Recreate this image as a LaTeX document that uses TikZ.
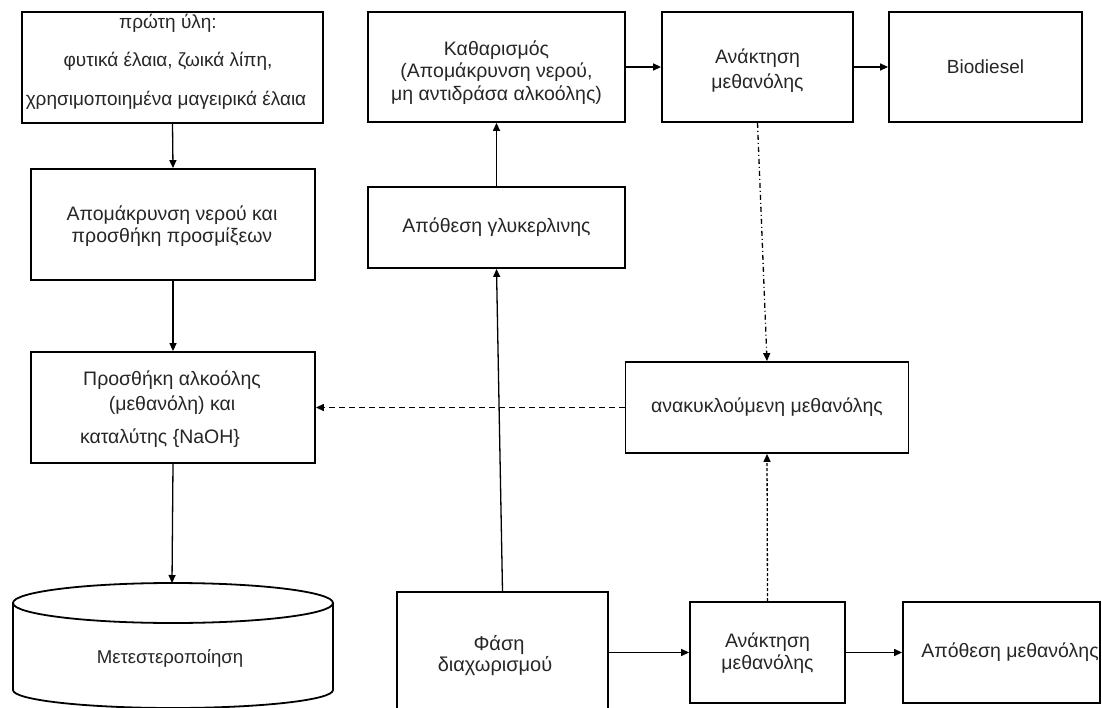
\documentclass[tikz,border=0pt]{standalone}
\usepackage{fontspec}
\setmainfont{Liberation Sans}
\usetikzlibrary{arrows.meta}

\newcommand{\fs}[1]{\fontsize{#1}{22}\selectfont}

\begin{document}
\begin{tikzpicture}[x=1pt,y=-1pt,
  every node/.style={font=\fs{19.5}, text=black!85},
  box/.style={draw, line width=1.8pt, inner sep=0pt},
  txt/.style={align=center, inner sep=0pt},
  link/.style={line width=1.3pt, -{Triangle[length=8pt,width=7pt]}},
  dashlink/.style={link, dash pattern=on 6pt off 4pt},
  dotlink/.style={link, dash pattern=on 3pt off 2pt},
  dashdotlink/.style={link, dash pattern=on 5pt off 3pt on 1pt off 3pt}]

\useasboundingbox (0,0) rectangle (1102,708);

% left column: preparation of the feedstock
\node[box, minimum width=301pt, minimum height=111pt] (raw) at (172.5,67.5) {};
\node[txt, font=\fs{19}] at (168,23) {πρώτη ύλη:};
\node[txt, font=\fs{19}] at (168,61) {φυτικά έλαια, ζωικά λίπη,};
\node[txt, font=\fs{19}] at (166,100) {χρησιμοποιημένα μαγειρικά έλαια};

\node[box, minimum width=284pt, minimum height=111pt] (prep) at (173,224.5) {};
\node[txt] at (172,215) {Απομάκρυνση νερού και};
\node[txt] at (172,237) {προσθήκη προσμίξεων};

\node[box, minimum width=284pt, minimum height=111pt] (alc) at (173,407.5) {};
\node[txt] at (172,380) {Προσθήκη αλκοόλης};
\node[txt] at (172,405) {(μεθανόλη) και};
\node[txt] at (160,438) {καταλύτης \{NaOH\}};

% reactor drawn as a cylinder
\coordinate (cyltop) at (172,583);
\draw[line width=1.8pt] (173,603) ellipse [x radius=160, y radius=20];
\draw[line width=1.8pt] (13,603) -- (13,690) arc [start angle=180, end angle=0, x radius=160, y radius=18] -- (333,603);
\node[txt, font=\fs{18.6}] (trans) at (170,658) {Μετεστεροποίηση};

% middle column: glycerine branch and purification
\node[box, minimum width=211pt, minimum height=128pt] (sep) at (502.5,656) {};
\node[txt, font=\fs{20}] at (499,645) {Φάση};
\node[txt, font=\fs{20}] at (495,666) {διαχωρισμού};

\node[box, minimum width=257pt, minimum height=81pt] (gly) at (496.5,227.5) {Απόθεση γλυκερλινης};

\node[box, minimum width=257pt, minimum height=110pt] (clean) at (496.5,67) {};
\node[txt] at (496.5,50) {Καθαρισμός};
\node[txt] at (496.5,72) {(Απομάκρυνση νερού,};
\node[txt] at (496.5,95) {μη αντιδράσα αλκοόλης)};

% right side: methanol recovery and products
\node[box, minimum width=191pt, minimum height=110pt] (rec1) at (757.5,67) {};
\node[txt] at (757.5,58) {Ανάκτηση};
\node[txt] at (757.5,83) {μεθανόλης};

\node[box, minimum width=193pt, minimum height=110pt, font=\fs{19}] (bio) at (985.5,67) {Biodiesel};

\node[box, minimum width=283pt, minimum height=91pt] (recy) at (767,407.5) {ανακυκλούμενη μεθανόλης};

\node[box, minimum width=155pt, minimum height=101pt] (rec2) at (767.5,652.5) {};
\node[txt] at (767.5,642) {Ανάκτηση};
\node[txt] at (767.5,664) {μεθανόλης};

\node[box, minimum width=197pt, minimum height=101pt] (store) at (1001.5,652.5) {};
\node[txt] at (1010,652) {Απόθεση μεθανόλης};

% connectors
\draw[link] (raw.south) -- (prep.north);
\draw[link] (prep.south) -- (alc.north);
\draw[link] (alc.south) -- (cyltop);
\draw[dashlink] (recy.west) -- (alc.east);
\draw[link] (sep.north) -- (gly.south);
\draw[link] (gly.north) -- (clean.south);
\draw[link] (clean.east) -- (rec1.west);
\draw[link] (rec1.east) -- (bio.west);
\draw[dashdotlink] (rec1.south) -- (recy.north);
\draw[dotlink] (rec2.north) -- (recy.south);
\draw[link] (sep.east |- rec2.west) -- (rec2.west);
\draw[link] (rec2.east) -- (store.west);
\end{tikzpicture}
\end{document}
